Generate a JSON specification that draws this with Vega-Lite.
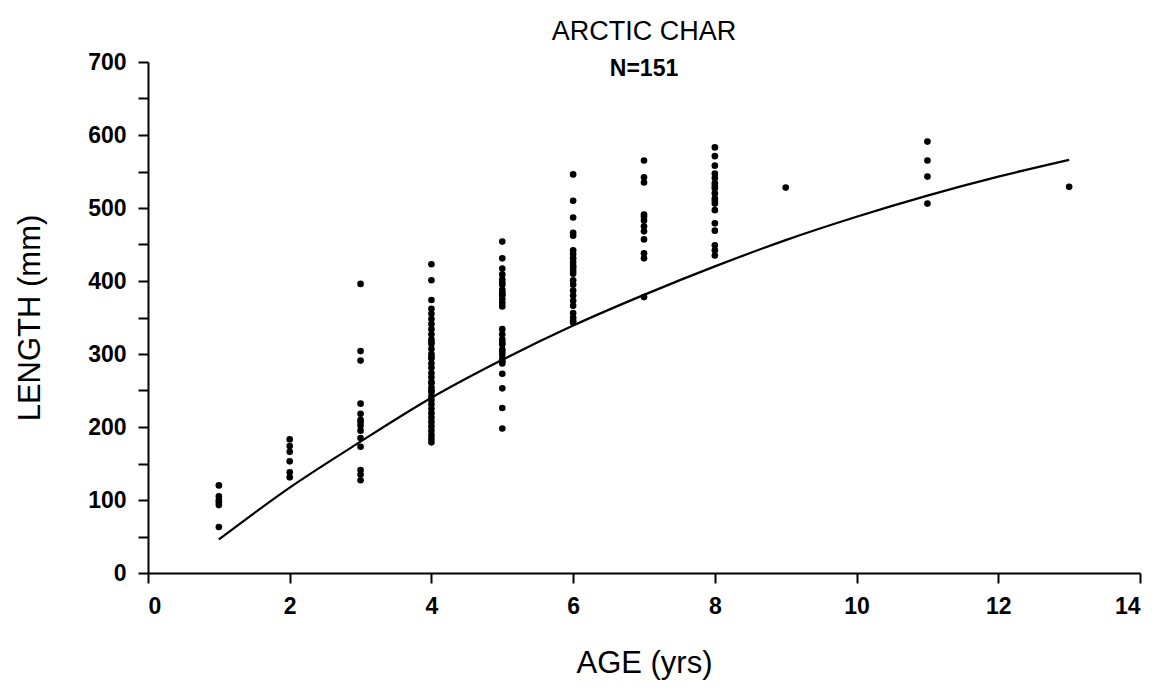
{
  "$schema": "https://vega.github.io/schema/vega-lite/v6.json",
  "width": 992,
  "height": 511,
  "autosize": {"type": "none"},
  "padding": {"left": 148, "top": 62, "right": 26, "bottom": 124},
  "background": "white",
  "config": {
    "view": {"stroke": null},
    "font": "Liberation Sans",
    "axis": {"grid": false, "domainColor": "black", "domainWidth": 2, "tickColor": "black", "tickWidth": 2, "tickSize": 10, "labelColor": "black", "titleColor": "black", "labelFont": "Liberation Sans", "titleFont": "Liberation Sans", "labelFontWeight": "bold", "labelFontSize": 23, "titleFontWeight": "normal", "titleFontSize": 31}
  },
  "title": {
    "text": "ARCTIC CHAR",
    "subtitle": "N=151",
    "anchor": "middle",
    "font": "Liberation Sans",
    "fontSize": 27,
    "fontWeight": "normal",
    "color": "black",
    "subtitleFont": "Liberation Sans",
    "subtitleFontSize": 23,
    "subtitleFontWeight": "bold",
    "subtitleColor": "black",
    "subtitlePadding": 12,
    "offset": -31
  },
  "datasets": {
    "fish": [
      {"age": 1, "length": 120}, {"age": 1, "length": 105}, {"age": 1, "length": 100}, {"age": 1, "length": 97}, {"age": 1, "length": 93}, {"age": 1, "length": 63},
      {"age": 2, "length": 183}, {"age": 2, "length": 174}, {"age": 2, "length": 166}, {"age": 2, "length": 153}, {"age": 2, "length": 138}, {"age": 2, "length": 131},
      {"age": 3, "length": 396}, {"age": 3, "length": 304}, {"age": 3, "length": 291}, {"age": 3, "length": 232}, {"age": 3, "length": 218}, {"age": 3, "length": 210}, {"age": 3, "length": 207}, {"age": 3, "length": 202}, {"age": 3, "length": 195}, {"age": 3, "length": 185}, {"age": 3, "length": 173}, {"age": 3, "length": 141}, {"age": 3, "length": 135}, {"age": 3, "length": 127},
      {"age": 4, "length": 423}, {"age": 4, "length": 401}, {"age": 4, "length": 374}, {"age": 4, "length": 362}, {"age": 4, "length": 355}, {"age": 4, "length": 348}, {"age": 4, "length": 341}, {"age": 4, "length": 334}, {"age": 4, "length": 327}, {"age": 4, "length": 320}, {"age": 4, "length": 316}, {"age": 4, "length": 314}, {"age": 4, "length": 307}, {"age": 4, "length": 300}, {"age": 4, "length": 296}, {"age": 4, "length": 294}, {"age": 4, "length": 287}, {"age": 4, "length": 281}, {"age": 4, "length": 274}, {"age": 4, "length": 268}, {"age": 4, "length": 262}, {"age": 4, "length": 260}, {"age": 4, "length": 254}, {"age": 4, "length": 250}, {"age": 4, "length": 248}, {"age": 4, "length": 242}, {"age": 4, "length": 237}, {"age": 4, "length": 231}, {"age": 4, "length": 225}, {"age": 4, "length": 219}, {"age": 4, "length": 213}, {"age": 4, "length": 207}, {"age": 4, "length": 201}, {"age": 4, "length": 195}, {"age": 4, "length": 189}, {"age": 4, "length": 184}, {"age": 4, "length": 179},
      {"age": 5, "length": 454}, {"age": 5, "length": 431}, {"age": 5, "length": 417}, {"age": 5, "length": 409}, {"age": 5, "length": 402}, {"age": 5, "length": 398}, {"age": 5, "length": 395}, {"age": 5, "length": 388}, {"age": 5, "length": 385}, {"age": 5, "length": 382}, {"age": 5, "length": 380}, {"age": 5, "length": 375}, {"age": 5, "length": 370}, {"age": 5, "length": 365}, {"age": 5, "length": 334}, {"age": 5, "length": 327}, {"age": 5, "length": 320}, {"age": 5, "length": 316}, {"age": 5, "length": 313}, {"age": 5, "length": 306}, {"age": 5, "length": 303}, {"age": 5, "length": 299}, {"age": 5, "length": 293}, {"age": 5, "length": 290}, {"age": 5, "length": 287}, {"age": 5, "length": 273}, {"age": 5, "length": 253}, {"age": 5, "length": 226}, {"age": 5, "length": 198},
      {"age": 6, "length": 546}, {"age": 6, "length": 510}, {"age": 6, "length": 487}, {"age": 6, "length": 466}, {"age": 6, "length": 462}, {"age": 6, "length": 442}, {"age": 6, "length": 437}, {"age": 6, "length": 431}, {"age": 6, "length": 426}, {"age": 6, "length": 421}, {"age": 6, "length": 418}, {"age": 6, "length": 414}, {"age": 6, "length": 410}, {"age": 6, "length": 401}, {"age": 6, "length": 395}, {"age": 6, "length": 387}, {"age": 6, "length": 380}, {"age": 6, "length": 373}, {"age": 6, "length": 366}, {"age": 6, "length": 356}, {"age": 6, "length": 350}, {"age": 6, "length": 346}, {"age": 6, "length": 343},
      {"age": 7, "length": 565}, {"age": 7, "length": 542}, {"age": 7, "length": 535}, {"age": 7, "length": 491}, {"age": 7, "length": 488}, {"age": 7, "length": 483}, {"age": 7, "length": 475}, {"age": 7, "length": 468}, {"age": 7, "length": 457}, {"age": 7, "length": 438}, {"age": 7, "length": 431}, {"age": 7, "length": 378},
      {"age": 8, "length": 583}, {"age": 8, "length": 571}, {"age": 8, "length": 558}, {"age": 8, "length": 547}, {"age": 8, "length": 541}, {"age": 8, "length": 534}, {"age": 8, "length": 530}, {"age": 8, "length": 527}, {"age": 8, "length": 520}, {"age": 8, "length": 513}, {"age": 8, "length": 510}, {"age": 8, "length": 506}, {"age": 8, "length": 497}, {"age": 8, "length": 479}, {"age": 8, "length": 469}, {"age": 8, "length": 449}, {"age": 8, "length": 442}, {"age": 8, "length": 435},
      {"age": 9, "length": 528},
      {"age": 11, "length": 591}, {"age": 11, "length": 565}, {"age": 11, "length": 543}, {"age": 11, "length": 506},
      {"age": 13, "length": 529}
    ],
    "fit": [
      {"age": 1, "length": 46}, {"age": 2, "length": 117}, {"age": 3, "length": 180}, {"age": 4, "length": 240}, {"age": 5, "length": 292}, {"age": 6, "length": 339}, {"age": 7, "length": 381}, {"age": 8, "length": 420}, {"age": 9, "length": 456}, {"age": 10, "length": 488}, {"age": 11, "length": 517}, {"age": 12, "length": 543}, {"age": 13, "length": 566}
    ]
  },
  "encoding": {
    "x": {"field": "age", "type": "quantitative", "scale": {"domain": [0, 14], "nice": false},
      "axis": {"title": "AGE (yrs)", "values": [0, 2, 4, 6, 8, 10, 12, 14], "labelPadding": 12, "titlePadding": 30}},
    "y": {"field": "length", "type": "quantitative", "scale": {"domain": [0, 700], "nice": false},
      "axis": {"title": "LENGTH (mm)", "values": [0, 50, 100, 150, 200, 250, 300, 350, 400, 450, 500, 550, 600, 650, 700], "labelExpr": "datum.value % 100 == 0 ? datum.label : ''", "labelPadding": 12, "titlePadding": 41}}
  },
  "layer": [
    {"data": {"name": "fit"}, "mark": {"type": "line", "color": "black", "strokeWidth": 2.2, "interpolate": "monotone"}},
    {"data": {"name": "fish"}, "mark": {"type": "circle", "color": "black", "opacity": 1, "size": 44}}
  ]
}
